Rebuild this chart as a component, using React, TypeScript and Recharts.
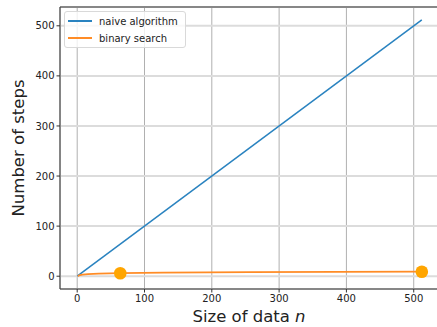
import {
  ComposedChart,
  Line,
  Scatter,
  XAxis,
  YAxis,
  CartesianGrid,
  ReferenceLine,
} from 'recharts';

const naiveSizes = [0, 512];
const naiveSteps = [0, 512];

const binarySizes = [1, 2, 4, 8, 16, 32, 64, 128, 256, 512];
const binarySteps = [0, 1, 2, 3, 4, 5, 6, 7, 8, 9];

const markerSizes = [64, 512];
const markerSteps = [6, 9];

const xTicks = [0, 100, 200, 300, 400, 500];
const yTicks = [0, 100, 200, 300, 400, 500];

const naiveData = naiveSizes.map((n, i) => ({ n, steps: naiveSteps[i] }));
const binaryData = binarySizes.map((n, i) => ({ n, steps: binarySteps[i] }));
const markerData = markerSizes.map((n, i) => ({ n, steps: markerSteps[i] }));

const FONT = '"DejaVu Sans", sans-serif';

function LegendBox() {
  const items = [
    { label: 'naive algorithm', color: '#2a83c0' },
    { label: 'binary search', color: '#ff8c26' },
  ];
  return (
    <div
      style={{
        position: 'absolute',
        left: 64,
        top: 11,
        width: 122,
        height: 37,
        boxSizing: 'border-box',
        border: '1px solid #d9d9d9',
        borderRadius: 3,
        background: 'rgba(255,255,255,0.8)',
        fontFamily: FONT,
        fontSize: 10,
        color: '#222',
      }}
    >
      {items.map((it, i) => (
        <div
          key={it.label}
          style={{ position: 'absolute', left: 3, top: 3 + i * 17, display: 'flex', alignItems: 'center', height: 12 }}
        >
          <div style={{ width: 24, height: 1.5, background: it.color, marginRight: 7 }} />
          <span>{it.label}</span>
        </div>
      ))}
    </div>
  );
}

export default function App() {
  return (
    <div style={{ position: 'absolute', left: 0, top: 0, width: 437, height: 327, overflow: 'hidden', background: '#fff' }}>
      <ComposedChart
        width={441}
        height={327}
        margin={{ top: 7, right: 2, left: 0, bottom: 8 }}
        style={{ fontFamily: FONT }}
      >
        <CartesianGrid horizontal={false} stroke="#b0b0b0" strokeWidth={1} />
        <CartesianGrid vertical={false} stroke="#dcdcdc" strokeWidth={2} />
        <XAxis
          dataKey="n"
          type="number"
          domain={[-25.55, 537.55]}
          ticks={xTicks}
          allowDataOverflow
          height={30}
          stroke="#333"
          tickSize={3.5}
          tick={{ fill: '#222', fontSize: 10 }}
          label={{
            value: 'Size of data',
            content: () => (
              <text x={249} y={322} textAnchor="middle" fontSize={16.5} fill="#222" fontFamily={FONT}>
                Size of data <tspan fontStyle="italic">n</tspan>
              </text>
            ),
          }}
        />
        <YAxis
          dataKey="steps"
          type="number"
          domain={[-25.55, 537.55]}
          ticks={yTicks}
          allowDataOverflow
          width={60}
          stroke="#333"
          tickSize={3.5}
          tick={{ fill: '#222', fontSize: 10 }}
          label={{
            value: 'Number of steps',
            content: () => (
              <text
                x={24}
                y={148}
                transform="rotate(-90 24 148)"
                textAnchor="middle"
                fontSize={16.5}
                fill="#222"
                fontFamily={FONT}
              >
                Number of steps
              </text>
            ),
          }}
        />
        <ReferenceLine y={537.55} stroke="#333" strokeWidth={1} ifOverflow="visible" />
        <Line
          data={naiveData}
          dataKey="steps"
          type="linear"
          stroke="#2a83c0"
          strokeWidth={1.5}
          dot={false}
          isAnimationActive={false}
          name="naive algorithm"
        />
        <Line
          data={binaryData}
          dataKey="steps"
          type="linear"
          stroke="#ff8c26"
          strokeWidth={1.8}
          dot={false}
          isAnimationActive={false}
          name="binary search"
        />
        <Scatter
          data={markerData}
          dataKey="steps"
          fill="#ffa500"
          isAnimationActive={false}
          shape={(props: any) => <circle cx={props.cx} cy={props.cy} r={6.3} fill="#ffa500" />}
        />
      </ComposedChart>
      <LegendBox />
    </div>
  );
}
